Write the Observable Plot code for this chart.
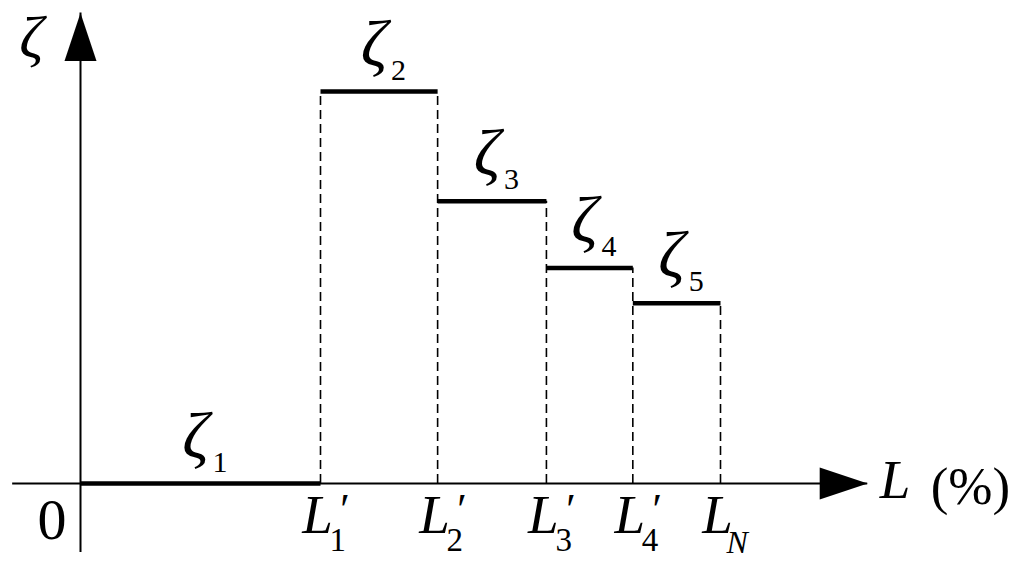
<!DOCTYPE html>
<html>
<head>
<meta charset="utf-8">
<script src="https://cdn.jsdelivr.net/npm/d3@7"></script>
<script src="https://cdn.jsdelivr.net/npm/@observablehq/plot@0.6"></script>
<style>
  html, body { margin: 0; padding: 0; background: #fff; }
  #chart svg { display: block; }
</style>
</head>
<body>
<div id="chart"></div>
<script>
// Breakpoints along L (%): origin, L'1, L'2, L'3, L'4, L_N
const breakX = [0, 37.5, 55.8, 72.8, 86.3, 100];
// Step heights ζ1..ζ5
const zetaValues = [0, 1.0, 0.72, 0.55, 0.46];
const zetaSubs = ["1", "2", "3", "4", "5"];
// Tick labels under the axis: subscript and whether it carries a prime
const tickSubs = ["1", "2", "3", "4", "N"];
const tickPrime = [true, true, true, true, false];

const segments = zetaValues.map((z, i) => ({x1: breakX[i], x2: breakX[i + 1], y: z, sub: zetaSubs[i], mid: (breakX[i] + breakX[i + 1]) / 2}));
const dashes = breakX.slice(1).map((x, i) => ({x, y1: 0, y2: Math.max(zetaValues[i], zetaValues[i + 1] ?? 0)}));
const ticks = breakX.slice(1).map((x, i) => ({x, sub: tickSubs[i], prime: tickPrime[i]}));

const xAxisExtent = [-10.6, 123];
const yAxisExtent = [-0.176, 1.2];

const arrowUp = {draw(ctx) { ctx.moveTo(0, 0); ctx.lineTo(-16, 48); ctx.lineTo(16, 48); ctx.closePath(); }};
const arrowRight = {draw(ctx) { ctx.moveTo(0, 0); ctx.lineTo(-48, -16); ctx.lineTo(-48, 16); ctx.closePath(); }};

const serif = "Liberation Serif, Times New Roman, serif";

const chart = Plot.plot({
  width: 1024,
  height: 561,
  margin: 0,
  x: {domain: [0, 100], range: [80, 720], axis: null},
  y: {domain: [0, 1], range: [483, 91], axis: null},
  marks: [
    // axes
    Plot.ruleY([0], {x1: xAxisExtent[0], x2: xAxisExtent[1], stroke: "black", strokeWidth: 2}),
    Plot.ruleX([0], {y1: yAxisExtent[0], y2: yAxisExtent[1], stroke: "black", strokeWidth: 2}),
    Plot.dot([{x: 0, y: yAxisExtent[1]}], {x: "x", y: "y", symbol: arrowUp, fill: "black", stroke: "none"}),
    Plot.dot([{x: xAxisExtent[1], y: 0}], {x: "x", y: "y", symbol: arrowRight, fill: "black", stroke: "none"}),
    // dashed verticals
    Plot.ruleX(dashes, {x: "x", y1: "y1", y2: "y2", stroke: "black", strokeWidth: 1.6, strokeDasharray: "9,5"}),
    // step segments
    Plot.link(segments, {x1: "x1", x2: "x2", y1: "y", y2: "y", stroke: "black", strokeWidth: 4.5}),
    // zeta labels
    Plot.text(segments, {x: "mid", y: "y", text: () => "ζ", fontFamily: serif, fontStyle: "italic", fontSize: 66, lineAnchor: "bottom", textAnchor: "middle", dx: -5, dy: -26, fill: "black"}),
    Plot.text(segments, {x: "mid", y: "y", text: "sub", fontFamily: serif, fontSize: 30, lineAnchor: "bottom", textAnchor: "start", dx: 12, dy: -12, fill: "black"}),
    // tick labels: L, prime, subscript
    Plot.text(ticks, {x: "x", y: 0, text: () => "L", fontFamily: serif, fontStyle: "italic", fontSize: 55, lineAnchor: "bottom", textAnchor: "middle", dx: -3, dy: 49, fill: "black"}),
    Plot.text(ticks.filter(d => d.prime), {x: "x", y: 0, text: () => "′", fontFamily: serif, fontStyle: "italic", fontSize: 44, lineAnchor: "bottom", textAnchor: "start", dx: 17, dy: 40, fill: "black"}),
    Plot.text(ticks.filter(d => d.sub !== "N"), {x: "x", y: 0, text: "sub", fontFamily: serif, fontSize: 33, lineAnchor: "bottom", textAnchor: "start", dx: 9, dy: 67, fill: "black"}),
    Plot.text(ticks.filter(d => d.sub === "N"), {x: "x", y: 0, text: "sub", fontFamily: serif, fontStyle: "italic", fontSize: 32, lineAnchor: "bottom", textAnchor: "start", dx: 6, dy: 69, fill: "black"}),
    // origin and axis titles
    Plot.text([0], {x: 0, y: 0, text: () => "0", fontFamily: serif, fontSize: 58, lineAnchor: "bottom", textAnchor: "end", dx: -14, dy: 55, fill: "black"}),
    Plot.text([0], {x: 0, y: yAxisExtent[1], text: () => "ζ", fontFamily: serif, fontStyle: "italic", fontSize: 60, lineAnchor: "bottom", textAnchor: "middle", dx: -49, dy: 44, fill: "black"}),
    Plot.text([0], {x: xAxisExtent[1], y: 0, text: () => "L", fontFamily: serif, fontStyle: "italic", fontSize: 55, lineAnchor: "bottom", textAnchor: "start", dx: 12, dy: 14, fill: "black"}),
    Plot.text([0], {x: xAxisExtent[1], y: 0, text: () => "(%)", fontFamily: serif, fontSize: 53, lineAnchor: "bottom", textAnchor: "start", dx: 63, dy: 20, letterSpacing: -2, fill: "black"})
  ]
});
document.getElementById("chart").appendChild(chart);
</script>
</body>
</html>
